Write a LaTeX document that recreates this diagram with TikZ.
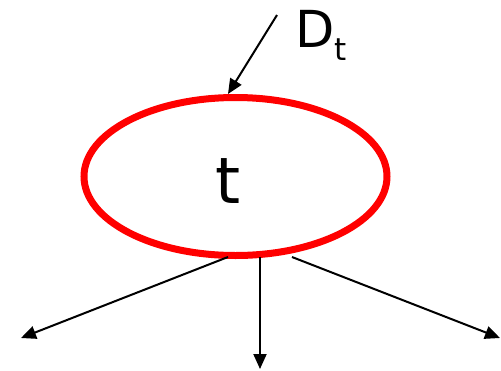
\documentclass[tikz,border=0pt]{standalone}
\usepackage{fontspec}
\setmainfont{DejaVu Sans}
\usetikzlibrary{arrows.meta,shapes.geometric}
\begin{document}
\begin{tikzpicture}[x=1pt,y=-1pt,
  conn/.style={line width=2pt,-{Triangle[length=15pt,width=13pt]}},
  state/.style={ellipse,draw=red,line width=7pt,minimum width=303pt,minimum height=158pt,inner sep=0pt}]
\useasboundingbox (0,0) rectangle (501,370);
\node[state] (e) at (235.5,176.5) {};
\node[anchor=base,font=\fontsize{64}{64}\selectfont] (tl) at (228,203) {t};
\node[anchor=base west,inner sep=0pt,font=\fontsize{51}{51}\selectfont] (d) at (295,47) {D\raisebox{-13pt}{\fontsize{31}{31}\selectfont t}};
\coordinate (s0) at (277,15);
\coordinate (a1) at (228,257);
\coordinate (a2) at (260,257);
\coordinate (a3) at (292,257);
\coordinate (b1) at (21,338);
\coordinate (b2) at (260,369);
\coordinate (b3) at (500,338);
\draw[conn] (s0) -- (e.north -| 228,0);
\draw[conn] (a1) -- (b1);
\draw[conn] (a2) -- (b2);
\draw[conn] (a3) -- (b3);
\end{tikzpicture}
\end{document}
